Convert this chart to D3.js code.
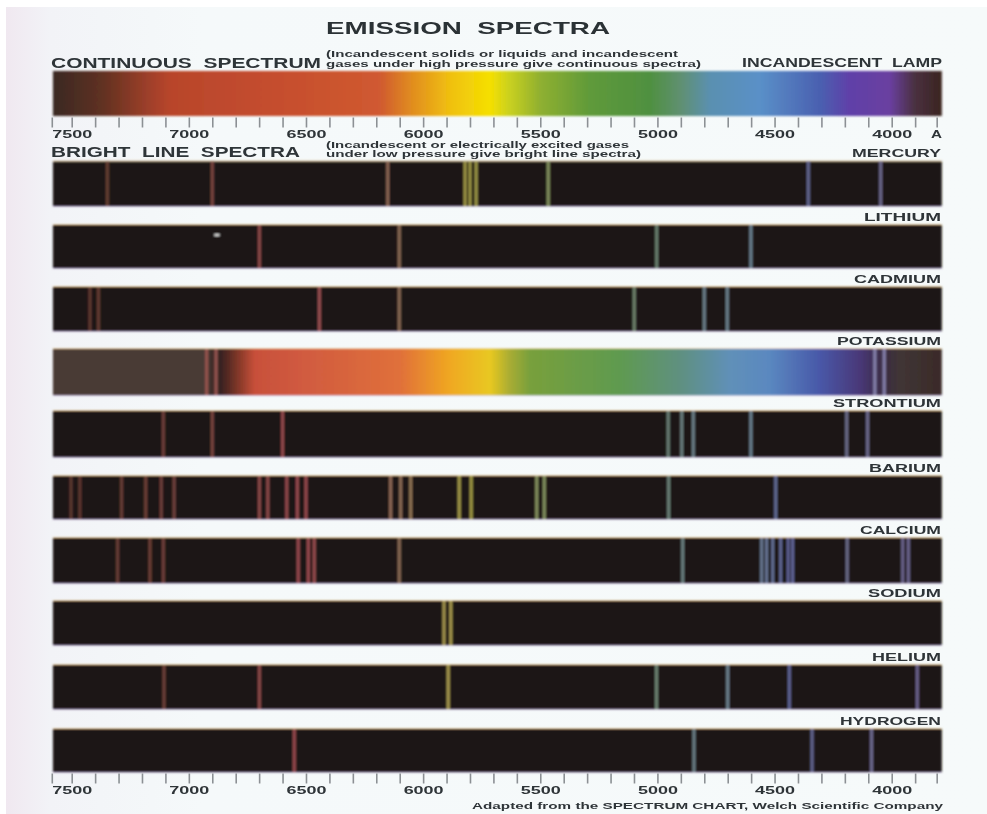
<!DOCTYPE html>
<html lang="en">
<head>
<meta charset="UTF-8">
<title>Emission Spectra</title>
<script src="https://cdnjs.cloudflare.com/ajax/libs/d3/7.8.5/d3.min.js"></script>
<style>
    html, body { margin: 0; padding: 0; background: #fff; }
    svg { display: block; }
    text { font-family: "Liberation Sans", Arial, sans-serif; font-weight: bold; fill: #2f3438; white-space: pre; }
</style>
</head>
<body>
<div id="chart"></div>
<script>
// wavelengths in angstrom
const elements = ["MERCURY", "LITHIUM", "CADMIUM", "POTASSIUM", "STRONTIUM", "BARIUM", "CALCIUM", "SODIUM", "HELIUM", "HYDROGEN"];
const mercury = [7348, 6900, 6151, 5821, 5800, 5774, 5466, 4356, 4047];
const lithium = [6699, 6102, 5003, 4601];
const cadmium = [7422, 7386, 6443, 6102, 5099, 4800, 4702];
const potassium = [6924, 6884, 4072, 4032];
const strontium = [7109, 6900, 6600, 4954, 4896, 4847, 4601, 4192, 4103];
const barium = [7503, 7465, 7287, 7184, 7118, 7063, 6699, 6663, 6582, 6537, 6500, 6139, 6096, 6053, 5846, 5795, 5515, 5483, 4952, 4495];
const calcium = [7304, 7166, 7109, 6533, 6490, 6465, 6102, 4892, 4555, 4534, 4508, 4474, 4442, 4423, 4190, 3953, 3929];
const sodium = [5911, 5882];
const helium = [7106, 6699, 5893, 5004, 4700, 4437, 3891];
const hydrogen = [6550, 4844, 4340, 4086];
const lineSets = [mercury, lithium, cadmium, potassium, strontium, barium, calcium, sodium, helium, hydrogen];

const tickWaves = [7585, 7500, 7400, 7300, 7200, 7100, 7000, 6900, 6800, 6700, 6600, 6500, 6400, 6300, 6200, 6100, 6000, 5900, 5800, 5700, 5600, 5500, 5400, 5300, 5200, 5100, 5000, 4900, 4800, 4700, 4600, 4500, 4400, 4300, 4200, 4100, 4000, 3900, 3808];
const tickLabels = [7500, 7000, 6500, 6000, 5500, 5000, 4500, 4000];

const continuousWaves = [7580, 7379, 7166, 7080, 6526, 6184, 6056, 5885, 5714, 5629, 5501, 5288, 5032, 4904, 4776, 4563, 4307, 4179, 4008, 3901, 3786];
const continuousColors = ["#3a2a20", "#5e3020", "#a0402a", "#b8452c", "#c8502f", "#d05a30", "#e08a20", "#f0c010", "#f5e000", "#c8d020", "#90b030", "#5f9a3a", "#4f9040", "#5f9070", "#5a90b0", "#5a90c8", "#4a60b0", "#6040a8", "#6a3fa0", "#4a3040", "#3a2520"];
const potassiumWaves = [7580, 6931, 6867, 6782, 6718, 6526, 6099, 5885, 5714, 5629, 5544, 5160, 4904, 4691, 4520, 4307, 4136, 4029, 3965, 3786];
const potassiumColors = ["#4a3a35", "#4a3a35", "#35201f", "#8a3a2a", "#c8503a", "#d05a40", "#e0703a", "#f0a820", "#e8c820", "#a8ac34", "#78a03c", "#5f9a50", "#5f9080", "#6090b8", "#5a88c0", "#4858a8", "#483878", "#3a2c40", "#403535", "#3a2a28"];
const lineWaves = [7500, 6900, 6500, 6100, 5900, 5800, 5500, 5000, 4850, 4600, 4450, 4200, 3900];
const lineColors = ["#5e3830", "#7a4640", "#9a4a50", "#8a6a55", "#a89a50", "#a09a45", "#84925f", "#6a8070", "#6c8088", "#6c8292", "#5e6296", "#6c6c8a", "#6c648e"];

const width = 987, height = 814;
const leftWave = 7580, rightWave = 3786;

const x = d3.scaleLinear().domain([7500, 4000]).range([71.7, 891.7]);
const rowTop = d3.scaleOrdinal(elements, [161.5, 225, 287, 349, 411, 476, 538, 601, 665, 729]);
const rowBottom = d3.scaleOrdinal(elements, [206, 268, 331, 395, 457, 519, 583, 645, 709, 772]);
const lineColor = d3.scaleLinear().domain(lineWaves).range(lineColors);

const svg = d3.select("#chart").append("svg").attr("width", width).attr("height", height);
const defs = svg.append("defs");

function addGradient(id, waves, colors) {
    const grad = defs.append("linearGradient").attr("id", id)
        .attr("gradientUnits", "userSpaceOnUse")
        .attr("x1", x(leftWave)).attr("x2", x(rightWave)).attr("y1", 0).attr("y2", 0);
    grad.selectAll("stop").data(waves).enter().append("stop")
        .attr("offset", d => (x(d) - x(leftWave)) / (x(rightWave) - x(leftWave)))
        .attr("stop-color", (d, i) => colors[i]);
}
addGradient("continuous", continuousWaves, continuousColors);
addGradient("potassiumBand", potassiumWaves, potassiumColors);

const paper = defs.append("linearGradient").attr("id", "paper");
paper.append("stop").attr("offset", 0).attr("stop-color", "#f0e8f0");
paper.append("stop").attr("offset", 0.045).attr("stop-color", "#f2f3f7");
paper.append("stop").attr("offset", 0.2).attr("stop-color", "#f5f9fa");
paper.append("stop").attr("offset", 1).attr("stop-color", "#f6fafa");

// groups are blurred as a whole, the print is soft everywhere
function addBlur(id, amount, y, h) {
    defs.append("filter").attr("id", id)
        .attr("filterUnits", "userSpaceOnUse")
        .attr("x", 0).attr("y", y).attr("width", width).attr("height", h)
        .append("feGaussianBlur").attr("stdDeviation", amount);
}
addBlur("soft", 0.8, 0, height);
addBlur("softText", 0.5, 0, height);
addBlur("axisSoft", 0.5, -5, 40);

svg.append("rect").attr("x", 6).attr("y", 7).attr("width", width - 6).attr("height", height - 7).attr("fill", "url(#paper)");

const bands = svg.append("g").attr("filter", "url(#soft)");
const texts = svg.append("g").attr("filter", "url(#softText)");

// continuous spectrum on top
bands.append("rect")
    .attr("x", x(leftWave)).attr("width", x(rightWave) - x(leftWave))
    .attr("y", 71).attr("height", 45)
    .attr("fill", "url(#continuous)");

// one band per element
const rows = bands.selectAll("g.row").data(elements).enter().append("g").attr("class", "row");

rows.append("rect")
    .attr("x", x(leftWave)).attr("width", x(rightWave) - x(leftWave))
    .attr("y", d => rowTop(d)).attr("height", d => rowBottom(d) - rowTop(d))
    .attr("fill", d => d === "POTASSIUM" ? "url(#potassiumBand)" : "#1a1512");

rows.append("rect") // warm edge along the top of each printed band
    .attr("x", x(leftWave)).attr("width", x(rightWave) - x(leftWave))
    .attr("y", d => rowTop(d) - 1).attr("height", 1)
    .attr("fill", "#e0b060").attr("opacity", 0.4);

rows.append("rect") // and a violet one along the bottom
    .attr("x", x(leftWave)).attr("width", x(rightWave) - x(leftWave))
    .attr("y", d => rowBottom(d)).attr("height", 1)
    .attr("fill", "#8a70a8").attr("opacity", 0.35);

rows.selectAll("line.emission")
    .data((d, i) => lineSets[i].map(w => ({ element: d, wave: w })))
    .enter().append("line").attr("class", "emission")
    .attr("x1", d => x(d.wave)).attr("x2", d => x(d.wave))
    .attr("y1", d => rowTop(d.element)).attr("y2", d => rowBottom(d.element))
    .attr("stroke", d => d.element === "POTASSIUM" ? d3.color(lineColor(d.wave)).brighter(0.6) : lineColor(d.wave))
    .attr("stroke-width", 3);

// printing speck in the lithium band
bands.append("ellipse")
    .attr("cx", x(6880)).attr("cy", rowTop("LITHIUM") + 10)
    .attr("rx", 3).attr("ry", 1.2).attr("fill", "#ddd");

// wavelength scales, top and bottom
function addAxis(y) {
    const axis = d3.axisBottom(x)
        .tickValues(tickWaves)
        .tickSize(10)
        .tickFormat(d => tickLabels.includes(d) ? d : "");
    const g = svg.append("g").attr("transform", `translate(0,${y})`).call(axis);
    g.select(".domain").remove();
    g.selectAll(".tick line").attr("stroke", "#8c9094").attr("stroke-width", 1.6);
    g.selectAll(".tick text")
        .attr("y", 11).attr("dy", 9)
        .attr("font-size", 11)
        .attr("textLength", d => tickLabels.includes(d) ? 40 : null)
        .attr("lengthAdjust", "spacingAndGlyphs")
        .style("font-family", "\"Liberation Sans\", Arial, sans-serif")
        .style("font-weight", "bold")
        .style("fill", "#2f3438");
    // filter sits on the group, a vertical line has no box for a filter of its own
    g.attr("filter", "url(#axisSoft)");
}
addAxis(117.5);
addAxis(773.5);

function label(str, xStart, xEnd, baseline, size, color) {
    texts.append("text")
        .attr("x", xStart).attr("y", baseline)
        .attr("font-size", size)
        .attr("textLength", xEnd - xStart)
        .attr("lengthAdjust", "spacingAndGlyphs")
        .style("fill", color || "#2f3438")
        .text(str);
}

label("EMISSION  SPECTRA", 326, 610, 34, 16.5, "#2b3034");
label("CONTINUOUS  SPECTRUM", 51, 321, 68, 14.5);
label("(Incandescent solids or liquids and incandescent", 326, 678, 56.5, 9);
label("gases under high pressure give continuous spectra)", 326, 701, 66.5, 9);
label("INCANDESCENT  LAMP", 742, 942, 66.7, 13);
label("A", 931, 942, 137.5, 11);
label("BRIGHT  LINE  SPECTRA", 51, 300, 157, 14.5);
label("(Incandescent or electrically excited gases", 326, 629, 147.5, 8.5);
label("under low pressure give bright line spectra)", 326, 641, 157, 8.5);
label("Adapted from the SPECTRUM CHART, Welch Scientific Company", 472, 943, 809, 9);

// element names, each sits just above its band
const nameStart = d3.scaleOrdinal(elements, [852, 864, 854, 837, 833, 869, 860, 868, 872, 840]);
elements.forEach(name => label(name, nameStart(name), 941, rowTop(name) - (name === "MERCURY" ? 4.8 : 4), 11.5));
</script>
</body>
</html>
